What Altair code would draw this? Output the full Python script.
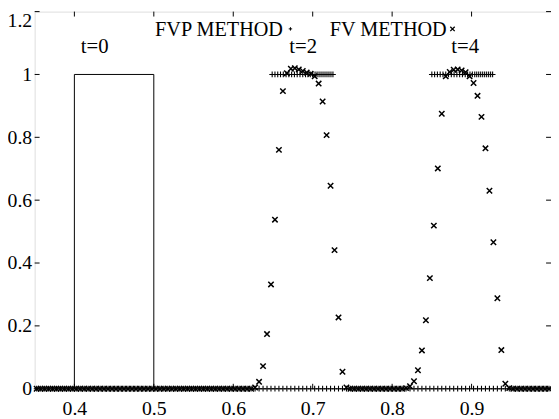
import altair as alt
import pandas as pd
import numpy as np

# ---- data ----
x_ticks = [0.4, 0.5, 0.6, 0.7, 0.8, 0.9]
y_ticks = [0, 0.2, 0.4, 0.6, 0.8, 1.0, 1.2]

# initial condition t=0 (box pulse)
init_x = [0.4, 0.4, 0.5, 0.5]
init_y = [0.0, 1.0, 1.0, 0.0]

# FV method: cells with nonzero values (t=2 and t=4)
fv_x_t2 = [0.6275, 0.6325, 0.6375, 0.6425, 0.6475, 0.6525, 0.6575, 0.6625, 0.6675, 0.6725,
           0.6775, 0.6825, 0.6875, 0.6925, 0.6975, 0.7025, 0.7075, 0.7125, 0.7175, 0.7225,
           0.7275, 0.7325, 0.7375, 0.7425]
fv_y_t2 = [0.004, 0.022, 0.072, 0.174, 0.332, 0.538, 0.760, 0.947, 1.004, 1.018,
           1.020, 1.016, 1.011, 1.006, 1.002, 0.994, 0.971, 0.914, 0.807, 0.646,
           0.441, 0.227, 0.054, 0.004]
fv_x_t4 = [0.8175, 0.8225, 0.8275, 0.8325, 0.8375, 0.8425, 0.8475, 0.8525, 0.8575, 0.8625,
           0.8675, 0.8725, 0.8775, 0.8825, 0.8875, 0.8925, 0.8975, 0.9025, 0.9075, 0.9125,
           0.9175, 0.9225, 0.9275, 0.9325, 0.9375, 0.9425, 0.9475]
fv_y_t4 = [0.002, 0.008, 0.024, 0.059, 0.122, 0.218, 0.352, 0.519, 0.701, 0.875,
           0.994, 1.008, 1.015, 1.016, 1.013, 1.007, 0.994, 0.973, 0.932, 0.865,
           0.765, 0.630, 0.466, 0.288, 0.123, 0.016, 0.002]

# FVP method: particles at the top of the pulses (value 1)
fvp_x_t2 = [0.649, 0.6525, 0.656, 0.6595, 0.663, 0.6665, 0.670, 0.6735, 0.677, 0.6805,
            0.684, 0.6875, 0.691, 0.694, 0.697, 0.700, 0.703, 0.7055, 0.708, 0.7105,
            0.713, 0.7155, 0.718, 0.7205, 0.723, 0.7255]
fvp_x_t4 = [0.850, 0.8535, 0.857, 0.8605, 0.864, 0.8675, 0.871, 0.8745, 0.878, 0.8815,
            0.885, 0.8885, 0.892, 0.895, 0.898, 0.901, 0.904, 0.9065, 0.909, 0.9115,
            0.914, 0.9165, 0.919, 0.9215, 0.924, 0.9265]

# grid of cell centres (dx = 0.005) covering the visible range
grid_dx = 0.005
grid_start = 0.3525
grid_end = 0.9975

labels_txt = ["t=0", "t=2", "t=4"]
labels_x = [0.4255, 0.688, 0.892]
labels_y = [1.088, 1.088, 1.088]

legend_txt = ["FVP METHOD", "FV METHOD"]
legend_x = [0.5016, 0.7214]
legend_y = [1.1415, 1.1415]
legend_mark_x = [0.672, 0.876]

# ---- tables ----
grid = [round(float(g), 4) for g in np.arange(grid_start, grid_end + 1e-9, grid_dx)]

fv_nz = dict(zip(fv_x_t2 + fv_x_t4, fv_y_t2 + fv_y_t4))
fv_rows = [(g, 0.0) for g in grid if g not in fv_nz]
fv_rows += list(fv_nz.items())
fv_df = pd.DataFrame(fv_rows, columns=["x", "y"])

fvp_rows = [(g, 0.0) for g in grid]
fvp_rows += [(v, 1.0) for v in fvp_x_t2 + fvp_x_t4]
fvp_df = pd.DataFrame(fvp_rows, columns=["x", "y"])

init_df = pd.DataFrame({"x": init_x, "y": init_y, "o": list(range(len(init_x)))})
lab_df = pd.DataFrame({"t": labels_txt, "x": labels_x, "y": labels_y})
leg_df = pd.DataFrame({"t": legend_txt, "x": legend_x, "y": legend_y})
legp_df = pd.DataFrame({"x": [legend_mark_x[0]], "y": [1.145]})
legx_df = pd.DataFrame({"x": [legend_mark_x[1]], "y": [1.145]})
xt_df = pd.DataFrame({"x": x_ticks})
yt_df = pd.DataFrame({"y": y_ticks})

W, H = 523, 382
FONT = "Liberation Serif"
xs = alt.Scale(domain=[0.35, 1.0], nice=False, zero=False)
ys = alt.Scale(domain=[0, 1.2], nice=False, zero=False)

PLUS = "M-1,0L1,0M0,-1L0,1"
CROSS = "M-1,-1L1,1M-1,1L1,-1"

xaxis = alt.Axis(values=x_ticks, format="~g", ticks=False, domain=False, grid=False,
                 labelFont=FONT, labelFontSize=20, labelColor="black", labelPadding=10, title=None)
yaxis = alt.Axis(values=y_ticks, format="~g", ticks=False, domain=False, grid=False,
                 labelFont=FONT, labelFontSize=20, labelColor="black", labelPadding=3, title=None,
                 labelOffset={"condition": {"test": "datum.value > 1.1", "value": 9}, "value": 0})

X = alt.X("x:Q", scale=xs, axis=xaxis)
Y = alt.Y("y:Q", scale=ys, axis=yaxis)

init_line = alt.Chart(init_df).mark_line(color="black", strokeWidth=1).encode(
    x=X, y=Y, order="o:Q")

fv_pts = alt.Chart(fv_df).mark_point(shape=CROSS, filled=False, color="black",
                                     strokeWidth=1.5, size=30, opacity=1).encode(x=X, y=Y)

fvp_pts = alt.Chart(fvp_df).mark_point(shape=PLUS, filled=False, color="black",
                                       strokeWidth=1.1, size=34, opacity=1).encode(x=X, y=Y)

labels = alt.Chart(lab_df).mark_text(font=FONT, fontSize=21, color="black",
                                     align="center", baseline="middle").encode(
    x=X, y=Y, text="t:N")

legend_text = alt.Chart(leg_df).mark_text(font=FONT, fontSize=20.5, color="black",
                                          align="left", baseline="middle").encode(
    x=X, y=Y, text="t:N")

legend_plus = alt.Chart(legp_df).mark_point(shape=PLUS, filled=False, color="black",
                                            strokeWidth=1, size=12, opacity=1).encode(x=X, y=Y)
legend_cross = alt.Chart(legx_df).mark_point(shape=CROSS, filled=False, color="black",
                                             strokeWidth=1.3, size=20, opacity=1).encode(x=X, y=Y)

TL = 5
xt_bottom = alt.Chart(xt_df).mark_rule(color="black", strokeWidth=1).encode(
    x=X, y=alt.value(H), y2=alt.value(H - TL))
xt_top = alt.Chart(xt_df).mark_rule(color="black", strokeWidth=1).encode(
    x=X, y=alt.value(0), y2=alt.value(TL))
yt_left = alt.Chart(yt_df).mark_rule(color="black", strokeWidth=1).encode(
    y=Y, x=alt.value(0), x2=alt.value(TL))
yt_right = alt.Chart(yt_df).mark_rule(color="black", strokeWidth=1).encode(
    y=Y, x=alt.value(W), x2=alt.value(W - TL))

chart = alt.layer(
    init_line, xt_bottom, xt_top, yt_left, yt_right,
    fv_pts, fvp_pts, labels, legend_text, legend_plus, legend_cross,
).properties(
    width=W, height=H,
    autosize=alt.AutoSizeParams(type="none"),
    padding={"left": 27, "top": 1, "right": 0, "bottom": 28},
).configure_view(
    stroke="black", strokeWidth=1,
).configure(background="white")

chart.save("out.html", embed_options={"renderer": "svg", "actions": False})
